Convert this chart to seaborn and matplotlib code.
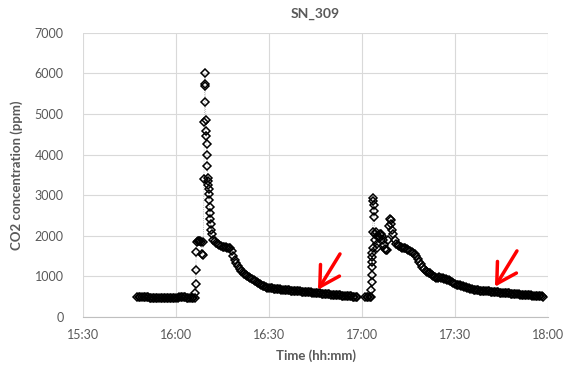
import pandas as pd
import numpy as np
import matplotlib
matplotlib.use("Agg")
import matplotlib.pyplot as plt
import matplotlib.dates as mdates
import seaborn as sns

# CO2 readings (ppm); times are minutes after 15:30
# session 1: steady part logged every 30 s from 15:47:30
s1_flat_start = 17.5
s1_flat_co2 = [
    490, 488, 485, 483, 480, 480, 480, 478, 475, 475, 475, 472, 470, 470,
    470, 470, 470, 468, 465, 465, 465, 468, 470, 470, 470, 473, 475, 478,
    480, 480, 480, 478, 475, 472, 470, 468, 465, 470,
]
# session 1: door opening / peak, irregular samples
s1_event_min = [
    36.2, 36.3, 36.4, 36.5,
    36.7, 37.0, 37.4, 37.8, 38.1, 38.3, 38.6, 38.8,
    39.0, 39.1, 39.2, 39.3, 39.4, 39.5, 39.6, 39.7, 39.8, 39.9, 40.0, 40.1,
    40.2, 40.3, 40.4, 40.5, 40.6, 40.7, 40.8, 40.9, 41.0, 41.2, 41.4, 41.6,
]
s1_event_co2 = [
    590, 810, 1160, 1600,
    1850, 1880, 1870, 1860, 1850, 1560, 1530, 1840,
    3400, 4800, 5700, 6000, 5750, 5300, 4850, 4580, 4450, 4270, 3990, 3720,
    3420, 3350, 3250, 3150, 3020, 2880, 2700, 2560, 2420, 2300, 2150, 2030,
]
# session 1: decay every 30 s from 16:12
s1_decay_start = 42.0
s1_decay_co2 = [
    1900, 1860, 1830, 1800, 1780, 1750, 1730, 1720, 1710, 1705, 1700, 1690,
    1620, 1500, 1400, 1320, 1250, 1190, 1140, 1100, 1060, 1030, 1000, 975,
    950, 925, 900, 880, 865, 840, 820, 795, 770, 750, 730, 720, 710, 705,
    700, 695, 690, 685, 680, 676, 672, 668, 665, 660, 655, 652, 648, 644,
    640, 636, 632, 628, 625, 621, 618, 614, 610, 606, 603, 600, 596, 592,
    588, 584, 580, 576, 573, 569, 565, 561, 558, 554, 550, 547, 543, 539,
    535, 531, 528, 524, 520, 516, 512, 508, 505, 501, 497, 494, 490, 488,
]

# session 2
s2_flat_start = 91.0
s2_flat_co2 = [495, 492, 490, 490, 495]
s2_event_min = [
    93.05, 93.1, 93.15, 93.2, 93.25, 93.3, 93.35, 93.4, 93.45, 93.55, 93.65,
    93.75, 93.85, 93.95, 94.1, 94.3, 94.5, 94.7, 94.9, 95.2, 95.5, 95.8,
    96.1, 96.4, 96.7, 97.0, 97.3, 97.6, 98.0, 98.4, 98.7, 99.0, 99.2, 99.4,
    99.7, 100.0,
]
s2_event_co2 = [
    660, 860, 1030, 1230, 1350, 1480, 1580, 1700, 2100, 2930, 2850,
    2750, 2620, 2460, 2050, 1900, 2100, 1800, 1700, 2000, 1950, 2050,
    2030, 1980, 1900, 1780, 1680, 1640, 1650, 1900, 2250, 2400, 2380, 2300,
    2150, 2050,
]
s2_decay_start = 100.5
s2_decay_co2 = [
    1900, 1800, 1770, 1740, 1720, 1705, 1700, 1690, 1670, 1650, 1625, 1600,
    1570, 1540, 1490, 1420, 1360, 1300, 1240, 1180, 1140, 1110, 1090, 1075,
    1040, 1000, 975, 965, 968, 970, 960, 950, 935, 920, 910, 905, 885, 860,
    835, 810, 795, 785, 775, 765, 755, 745, 732, 720, 705, 690, 678, 665,
    660, 655, 650, 645, 641, 638, 634, 630, 628, 625, 621, 617, 613, 610,
    606, 602, 598, 595, 591, 587, 583, 580, 576, 572, 568, 565, 561, 558,
    554, 550, 546, 543, 540, 537, 533, 530, 526, 522, 518, 515, 511, 508,
    505, 502, 500,
]

# red arrows (tail -> tip)
arrow_tail_min = [82.9, 140.0]
arrow_tail_ppm = [1550, 1625]
arrow_tip_min = [75.8, 132.9]
arrow_tip_ppm = [665, 740]

SAMPLE_STEP = 0.5  # minutes between logged readings in steady parts
base = pd.Timestamp("2020-01-01 15:30")


def to_time(minutes):
    return base + pd.to_timedelta(np.asarray(minutes, dtype=float), unit="min")


def regular_minutes(start, values):
    return start + SAMPLE_STEP * np.arange(len(values))


def session_frame(parts, session):
    mins = np.concatenate([m for m, _ in parts])
    vals = np.concatenate([v for _, v in parts])
    return pd.DataFrame({"time": to_time(mins), "co2": vals, "session": session})


df = pd.concat([
    session_frame([
        (regular_minutes(s1_flat_start, s1_flat_co2), s1_flat_co2),
        (s1_event_min, s1_event_co2),
        (regular_minutes(s1_decay_start, s1_decay_co2), s1_decay_co2),
    ], 1),
    session_frame([
        (regular_minutes(s2_flat_start, s2_flat_co2), s2_flat_co2),
        (s2_event_min, s2_event_co2),
        (regular_minutes(s2_decay_start, s2_decay_co2), s2_decay_co2),
    ], 2),
])

sns.set_theme(style="whitegrid")
plt.rcParams["font.family"] = ["Lato", "DejaVu Sans"]

fig, ax = plt.subplots(figsize=(5.69, 3.65), dpi=100)
fig.subplots_adjust(left=0.146, right=0.963, bottom=0.132, top=0.91)

# hollow diamonds; overlapping outlines merge into a solid trace where readings are dense
sns.lineplot(
    data=df, x="time", y="co2", units="session", estimator=None, sort=False,
    color="#a6a6a6", linewidth=0.6, linestyle=":",
    marker="D", markersize=3.7, markerfacecolor="none",
    markeredgecolor="black", markeredgewidth=1.1, ax=ax,
)

for tx, ty, hx, hy in zip(arrow_tail_min, arrow_tail_ppm, arrow_tip_min, arrow_tip_ppm):
    ax.annotate(
        "", xy=(to_time([hx])[0], hy), xytext=(to_time([tx])[0], ty),
        arrowprops=dict(arrowstyle="->,head_length=14,head_width=8",
                        mutation_scale=1, color="red", lw=2.5,
                        shrinkA=0, shrinkB=0),
    )

ax.set_xlim(base, base + pd.Timedelta(minutes=150))
ax.set_ylim(0, 7000)
ax.set_yticks(range(0, 7001, 1000))
ax.xaxis.set_major_locator(mdates.MinuteLocator(byminute=[0, 30]))
ax.xaxis.set_major_formatter(mdates.DateFormatter("%H:%M"))

ax.grid(True, color="#d9d9d9", linewidth=0.8)
for side in ["left", "top", "right"]:
    ax.spines[side].set_visible(False)
ax.spines["bottom"].set_color("#bfbfbf")
ax.spines["bottom"].set_linewidth(0.8)

ax.tick_params(axis="both", length=0, labelsize=9, labelcolor="#595959")
ax.tick_params(axis="x", pad=9)
ax.tick_params(axis="y", pad=14)

ax.set_title("SN_309", fontsize=10, fontweight="bold", color="#595959", pad=11)
ax.set_xlabel("Time (hh:mm)", fontsize=9.5, fontweight="bold", color="#595959", labelpad=6)
ax.set_ylabel("CO2 concentration (ppm)", fontsize=9.5, fontweight="bold", color="#595959", labelpad=8)

fig.savefig("out.png", dpi=100)
